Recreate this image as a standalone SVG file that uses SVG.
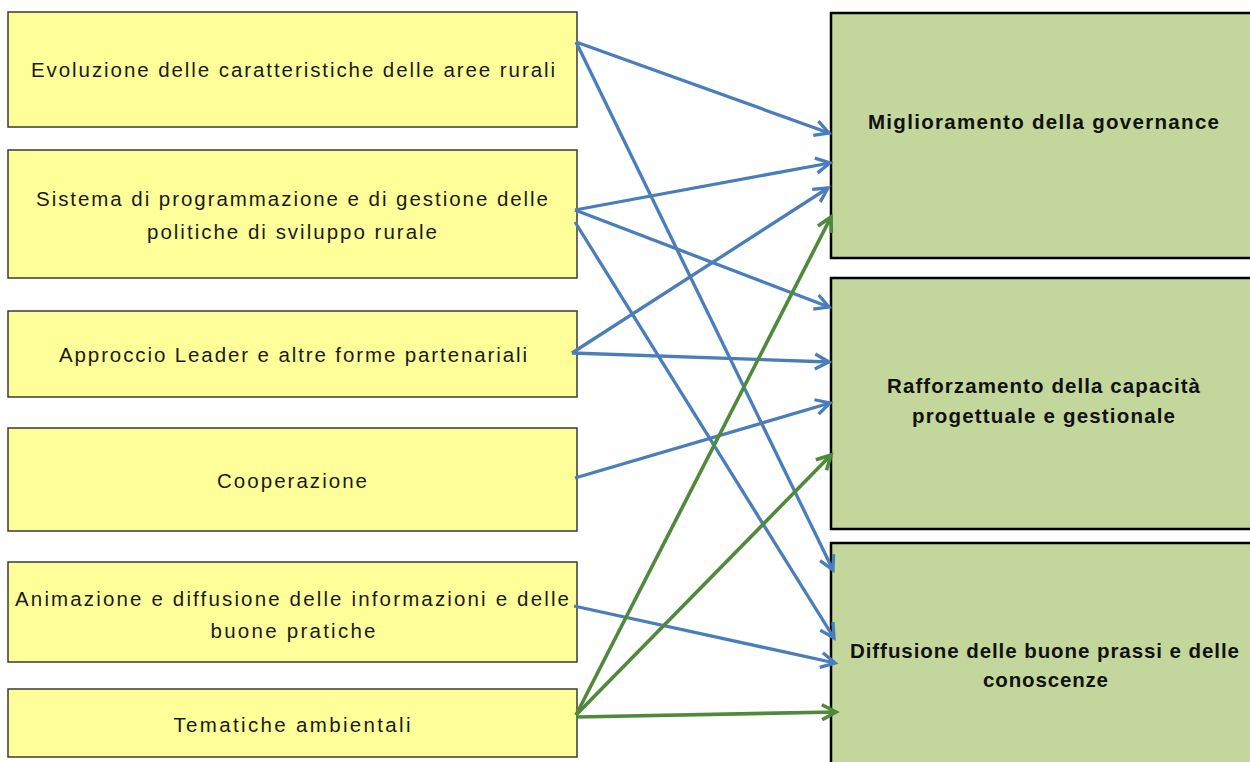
<svg xmlns="http://www.w3.org/2000/svg" width="1250" height="762" viewBox="0 0 1250 762">
<style>
.src{fill:#ffff99;stroke:#3a3a3a;stroke-width:1.5}
.dst{fill:#c3d69b;stroke:#000;stroke-width:2.5}
.t{font-family:"Liberation Sans",Arial,sans-serif;font-size:20.5px;fill:#1a1a1a;text-anchor:middle}
.b{font-weight:bold;fill:#111}
.blue{stroke:#4a7ebb;stroke-width:3.3;fill:none;marker-end:url(#ab)}
.green{stroke:#4f8a3c;stroke-width:3.6;fill:none;marker-end:url(#ag)}
</style>
<defs>
<marker id="ab" markerUnits="userSpaceOnUse" markerWidth="22" markerHeight="22" viewBox="0 0 22 22" refX="18" refY="11" orient="auto">
<path d="M4,3.5 L18,11 L4,18.5" fill="none" stroke="#4a7ebb" stroke-width="3.3" stroke-linejoin="miter"/>
</marker>
<marker id="ag" markerUnits="userSpaceOnUse" markerWidth="22" markerHeight="22" viewBox="0 0 22 22" refX="18" refY="11" orient="auto">
<path d="M4,3.5 L18,11 L4,18.5" fill="none" stroke="#4f8a3c" stroke-width="3.6" stroke-linejoin="miter"/>
</marker>
</defs>
<rect width="1250" height="762" fill="#fff"/>

<g id="n1"><rect class="src" x="8" y="12" width="569" height="115"/>
<text class="t" x="293" y="77" textLength="524" lengthAdjust="spacing">Evoluzione delle caratteristiche delle aree rurali</text></g>

<g id="n2"><rect class="src" x="8" y="150" width="569" height="128"/>
<text class="t" x="292" y="206" textLength="512" lengthAdjust="spacing">Sistema di programmazione e di gestione delle</text>
<text class="t" x="292" y="239" textLength="290" lengthAdjust="spacing">politiche di sviluppo rurale</text></g>

<g id="n3"><rect class="src" x="8" y="311" width="569" height="86"/>
<text class="t" x="293" y="362" textLength="468" lengthAdjust="spacing">Approccio Leader e altre forme partenariali</text></g>

<g id="n4"><rect class="src" x="8" y="428" width="569" height="103"/>
<text class="t" x="292" y="488" textLength="150" lengthAdjust="spacing">Cooperazione</text></g>

<g id="n5"><rect class="src" x="8" y="562" width="569" height="100"/>
<text class="t" x="292" y="606" textLength="554" lengthAdjust="spacing">Animazione e diffusione delle informazioni e delle</text>
<text class="t" x="293" y="638" textLength="165" lengthAdjust="spacing">buone pratiche</text></g>

<g id="n6"><rect class="src" x="8" y="689" width="569" height="68"/>
<text class="t" x="292" y="732" textLength="237" lengthAdjust="spacing">Tematiche ambientali</text></g>

<g id="nA"><rect class="dst" x="831" y="13" width="430" height="245"/>
<text class="t b" x="1043.5" y="129" textLength="351" lengthAdjust="spacing">Miglioramento della governance</text></g>

<g id="nB"><rect class="dst" x="831" y="278" width="430" height="251"/>
<text class="t b" x="1043.5" y="393" textLength="313" lengthAdjust="spacing">Rafforzamento della capacità</text>
<text class="t b" x="1043.5" y="423" textLength="263" lengthAdjust="spacing">progettuale e gestionale</text></g>

<g id="nC"><rect class="dst" x="831" y="543" width="430" height="235"/>
<text class="t b" x="1044.5" y="658" textLength="389" lengthAdjust="spacing">Diffusione delle buone prassi e delle</text>
<text class="t b" x="1045.5" y="687" textLength="125" lengthAdjust="spacing">conoscenze</text></g>

<g id="connectors">
<line class="blue" x1="576" y1="42" x2="829" y2="133"/>
<line class="blue" x1="576" y1="42" x2="833" y2="570"/>
<line class="blue" x1="575" y1="210" x2="830" y2="163"/>
<line class="blue" x1="575" y1="210" x2="829" y2="307"/>
<line class="blue" x1="575" y1="222" x2="834" y2="638"/>
<line class="blue" x1="572" y1="353" x2="828" y2="188"/>
<line class="blue" x1="572" y1="353" x2="829" y2="362"/>
<line class="blue" x1="575" y1="478" x2="830" y2="403"/>
<line class="blue" x1="574" y1="606" x2="835" y2="663"/>
<line class="green" x1="576" y1="715" x2="831" y2="217"/>
<line class="green" x1="576" y1="715" x2="831" y2="455"/>
<line class="green" x1="576" y1="717" x2="836" y2="712"/>
</g>
</svg>
